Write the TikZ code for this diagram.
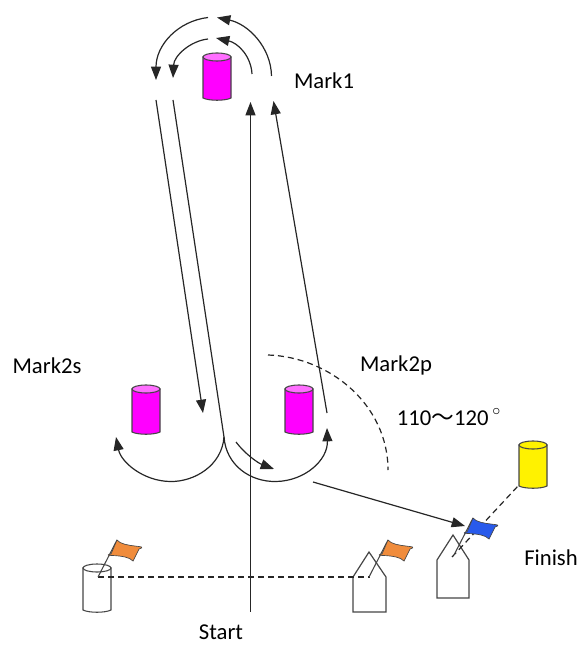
\documentclass[tikz,border=0pt]{standalone}
\usepackage{fontspec}
\setmainfont{Carlito}
\newfontfamily\cjk{Noto Sans CJK JP}
\usetikzlibrary{arrows.meta}
\definecolor{markpink}{RGB}{255,0,255}
\definecolor{marktop}{RGB}{255,110,255}
\definecolor{flagorange}{RGB}{240,140,60}
\definecolor{flagblue}{RGB}{40,90,235}
\definecolor{outl}{RGB}{70,70,70}
\tikzset{
  course/.style={draw=black!85,line width=0.9pt,-{Triangle[length=10pt,width=7.5pt]}},
  plainline/.style={draw=black!85,line width=0.9pt},
  dashline/.style={draw=black!85,line width=0.9pt,dash pattern=on 4.5pt off 3pt},
  lbl/.style={inner sep=0.75pt,font=\fontsize{17}{20}\selectfont},
  hull/.style={draw=outl,line width=0.9pt,fill=white},
}
% can at top centre (#1,#2), bottom at #3
\newcommand{\markcan}[5]{
  \draw [draw=outl,line width=0.8pt,fill=#4] (#1-14,#2) -- (#1-14,#3-2) .. controls (#1-8,#3+1) and (#1+8,#3+1) .. (#1+14,#3-2) -- (#1+14,#2) -- cycle;
  \draw [draw=outl,line width=0.8pt,fill=#5] (#1,#2) ellipse (14 and 4);
}
% flag from pole foot (#1) to pole top (#2)
\newcommand{\flagat}[3]{
  \draw [draw=outl,line width=0.8pt] (#1,#2) -- ++(19,-37);
  \draw [draw=outl,line width=0.5pt,fill=#3] (#1+19,#2-37) .. controls ++(6,8) and ++(12,-4) .. ++(22,9) -- ++(-6,12) .. controls ++(-7,-8) and ++(-12,3) .. ++(-22,-7) -- cycle;
}

\begin{document}
\begin{tikzpicture}[x=0.75pt,y=0.75pt,yscale=-1,xscale=1]
\useasboundingbox (0,0) rectangle (585,645);

%Named points
\coordinate (startfoot) at (250.5,611.5);
\coordinate (starttip) at (250.5,102);
\coordinate (outerleft) at (156,100);
\coordinate (leg2tip) at (203,413);
\coordinate (innerleft) at (173,100);
\coordinate (cusp) at (224,437);
\coordinate (sarctip) at (116,437);
\coordinate (parctip) at (327,428);
\coordinate (turnA) at (236,442);
\coordinate (turnB) at (274,469);
\coordinate (upA) at (327,413);
\coordinate (upB) at (273.5,101);
\coordinate (finA) at (313,482);
\coordinate (finB) at (465,526);
\coordinate (gateL) at (98,577);
\coordinate (gateR) at (370,577);
\coordinate (finboat) at (452,557);
\coordinate (finmark) at (518,486);
\coordinate (fanA) at (268,355);
\coordinate (fanB) at (388,470);

%Shape: Cans
\markcan{217}{57}{100}{markpink}{marktop}
\markcan{146}{389}{434}{markpink}{marktop}
\markcan{299}{389}{434}{markpink}{marktop}
\markcan{533}{445}{488}{yellow}{yellow}
\markcan{97}{568}{612}{white}{white}

%Shape: Boats
\draw [hull] (353,577) -- (369,552) -- (386,577) -- (386,612) -- (353,612) -- cycle;
\draw [hull] (437,560) -- (453,535) -- (469,560) -- (469,598) -- (437,598) -- cycle;

%Dashed lines
\draw [dashline] (gateL) -- (gateR);
\draw [dashline] (finboat) -- (finmark);
\draw [dashline] (fanA) .. controls (330,357) and (388,405) .. (fanB);

%Flags
\flagat{98}{577}{flagorange}
\flagat{369}{577}{flagorange}
\flagat{454}{555}{flagblue}

%Arcs round Mark1
\draw [course] (208,17.5) .. controls (178,21) and (156,45) .. (156,80);
\draw [course] (271.5,76) .. controls (271,47) and (248,24) .. (217,17.5);
\draw [course] (208,39) .. controls (190,41) and (174,56) .. (173,78);
\draw [course] (252,74) .. controls (251,56) and (238,43) .. (216,38);

%Straight Lines
\draw [course] (startfoot) -- (starttip);
\draw [course] (outerleft) -- (leg2tip);
\draw [plainline] (innerleft) -- (cusp);
\draw [course] (upA) -- (upB);
\draw [course] (finA) -- (finB);

%Arcs at the Mark2 gate
\draw [course] (cusp) .. controls (222,465) and (195,482) .. (170,481.5) .. controls (143,481) and (121,462) .. (sarctip);
\draw [course] (cusp) .. controls (226,465) and (250,482) .. (276,481.5) .. controls (305,481) and (328,460) .. (parctip);
\draw [course] (turnA) .. controls (245,454) and (258,463) .. (turnB);

% Text Node
\node [lbl] (mark1) at (324,81) {Mark1};
\node [lbl] (mark2s) at (47,366) {Mark2s};
\node [lbl] (mark2p) at (396,365) {Mark2p};
\node [lbl] (angle) at (449,417) {110{\cjk～}120\,\raisebox{0.1ex}{$^{\circ}$}};
\node [lbl] (finish) at (551,558) {Finish};
\node [lbl] (start) at (221,632) {Start};
\end{tikzpicture}
\end{document}
